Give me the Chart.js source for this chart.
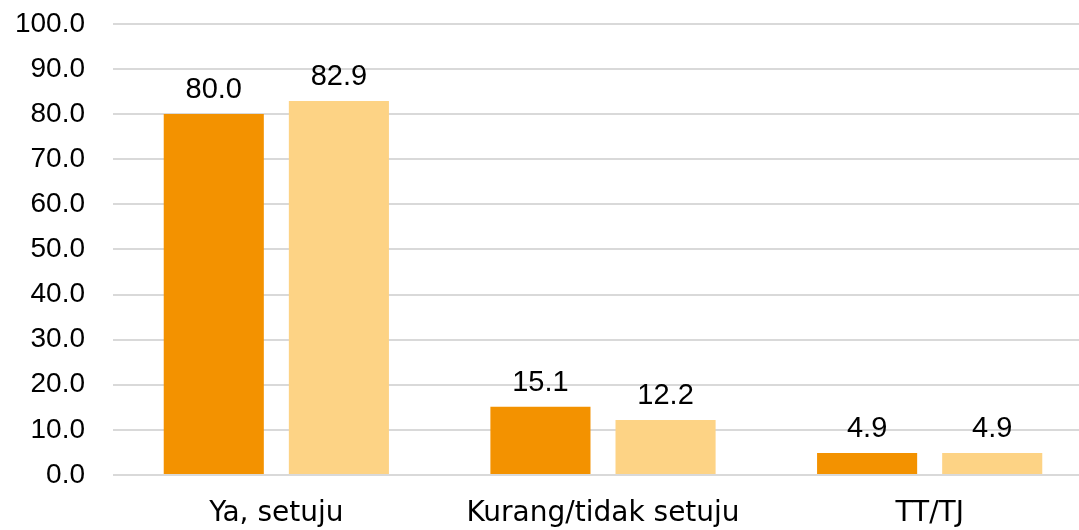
<!DOCTYPE html>
<html><head><meta charset="utf-8">
<script src="https://cdn.jsdelivr.net/npm/chart.js@4/dist/chart.umd.min.js"></script>
<style>html,body{margin:0;padding:0;overflow:hidden;background:#fff;width:1079px;height:530px}
#wrap{position:relative;width:1093px;height:551px;margin-top:-21px}</style>
</head><body><div id="wrap"><canvas id="c"></canvas></div>
<script>
const categories = ["Ya, setuju", "Kurang/tidak setuju", "TT/TJ"];
const series1 = [80.0, 15.1, 4.9];
const series2 = [82.9, 12.2, 4.9];
const yTicks = [0,10,20,30,40,50,60,70,80,90,100];
const FONT = "'Liberation Sans', Arial, sans-serif";
const CATFONT = "'DejaVu Sans', sans-serif";

const valueLabels = {
  id: 'valueLabels',
  afterDatasetsDraw(chart){
    const ctx = chart.ctx;
    ctx.save();
    ctx.fillStyle = '#000';
    ctx.font = '29px ' + FONT;
    ctx.textAlign = 'center';
    ctx.textBaseline = 'alphabetic';
    chart.data.datasets.forEach((ds, i) => {
      chart.getDatasetMeta(i).data.forEach((bar, j) => {
        ctx.fillText(ds.data[j].toFixed(1), bar.x, bar.y - 16);
      });
    });
    ctx.restore();
  }
};

new Chart(document.getElementById('c'), {
  type: 'bar',
  data: {
    labels: categories,
    datasets: [
      {data: series1, backgroundColor: '#F39200', categoryPercentage: 0.766, barPercentage: 0.8},
      {data: series2, backgroundColor: '#FDD385', categoryPercentage: 0.766, barPercentage: 0.8}
    ]
  },
  options: {
    responsive: true, maintainAspectRatio: false, animation: false,
    layout: {padding: {top: 3, right: 0, left: 0, bottom: 0}},
    plugins: {legend: {display: false}, tooltip: {enabled: false}},
    scales: {
      x: {
        grid: {display: false}, border: {display: false},
        ticks: {color: '#000', font: {family: CATFONT, size: 28}, padding: 14},
        afterFit(s){ s.height = 55; }
      },
      y: {
        min: 0, max: 100,
        afterBuildTicks(s){ s.ticks = yTicks.map(v => ({value: v})); },
        grid: {color: '#d9d9d9', lineWidth: 2, drawTicks: false},
        border: {display: false},
        ticks: {color: '#000', font: {family: FONT, size: 28}, padding: 28,
          callback: v => Number(v).toFixed(1)},
        afterFit(s){ s.width = 113; }
      }
    }
  },
  plugins: [valueLabels]
});
</script></body></html>
